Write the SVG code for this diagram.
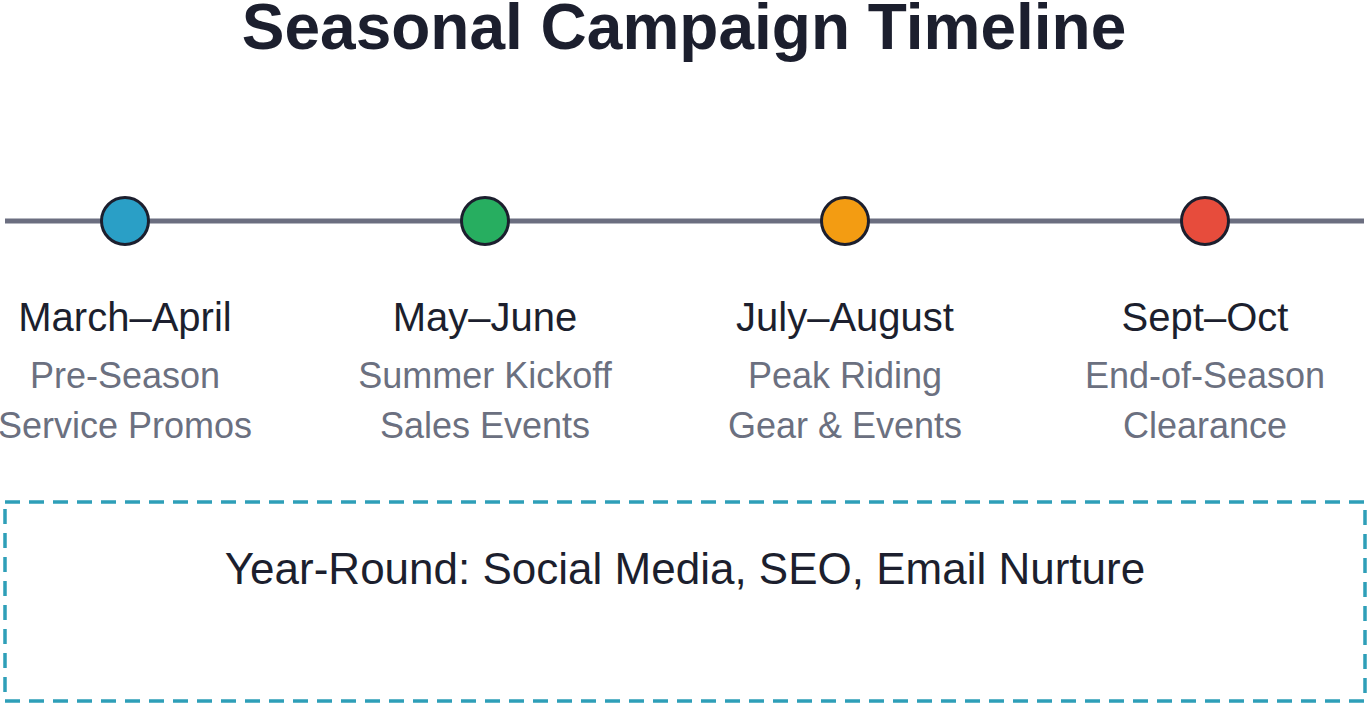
<svg xmlns="http://www.w3.org/2000/svg" width="1367" height="704" viewBox="0 0 1367 704">
<style>
.title{font-family:"Liberation Sans",Arial,sans-serif;font-weight:bold;font-size:64px;fill:#1c1f2e;text-anchor:middle}
.date{font-family:"Liberation Sans",Arial,sans-serif;font-size:40px;fill:#1c1f2e;text-anchor:middle}
.sub{font-family:"Liberation Sans",Arial,sans-serif;font-size:36px;fill:#6b7080;text-anchor:middle}
.band{font-family:"Liberation Sans",Arial,sans-serif;font-size:44px;fill:#1c1f2e;text-anchor:middle}
.dot{stroke:#1c1f2e;stroke-width:3}
</style>
<rect width="1367" height="704" fill="#ffffff"/>
<text class="title" x="684" y="49">Seasonal Campaign Timeline</text>
<g id="connectors">
<line x1="5" y1="221" x2="1364" y2="221" stroke="#6b6e80" stroke-width="5"/>
</g>
<g id="node-march">
<circle class="dot" cx="125" cy="221" r="23.5" fill="#2a9fc6"/>
<text class="date" x="125" y="331">March–April</text>
<text class="sub" x="125" y="388">Pre-Season</text>
<text class="sub" x="125" y="438">Service Promos</text>
</g>
<g id="node-may">
<circle class="dot" cx="485" cy="221" r="23.5" fill="#27ae60"/>
<text class="date" x="485" y="331">May–June</text>
<text class="sub" x="485" y="388">Summer Kickoff</text>
<text class="sub" x="485" y="438">Sales Events</text>
</g>
<g id="node-july">
<circle class="dot" cx="845" cy="221" r="23.5" fill="#f39c12"/>
<text class="date" x="845" y="331">July–August</text>
<text class="sub" x="845" y="388">Peak Riding</text>
<text class="sub" x="845" y="438">Gear &amp; Events</text>
</g>
<g id="node-sept">
<circle class="dot" cx="1205" cy="221" r="23.5" fill="#e74c3c"/>
<text class="date" x="1205" y="331">Sept–Oct</text>
<text class="sub" x="1205" y="388">End-of-Season</text>
<text class="sub" x="1205" y="438">Clearance</text>
</g>
<g id="node-yearround">
<rect x="5" y="502" width="1360" height="199" fill="none" stroke="#2e9fb8" stroke-width="3.5" stroke-dasharray="15 9"/>
<text class="band" x="685" y="584">Year-Round: Social Media, SEO, Email Nurture</text>
</g>
</svg>
